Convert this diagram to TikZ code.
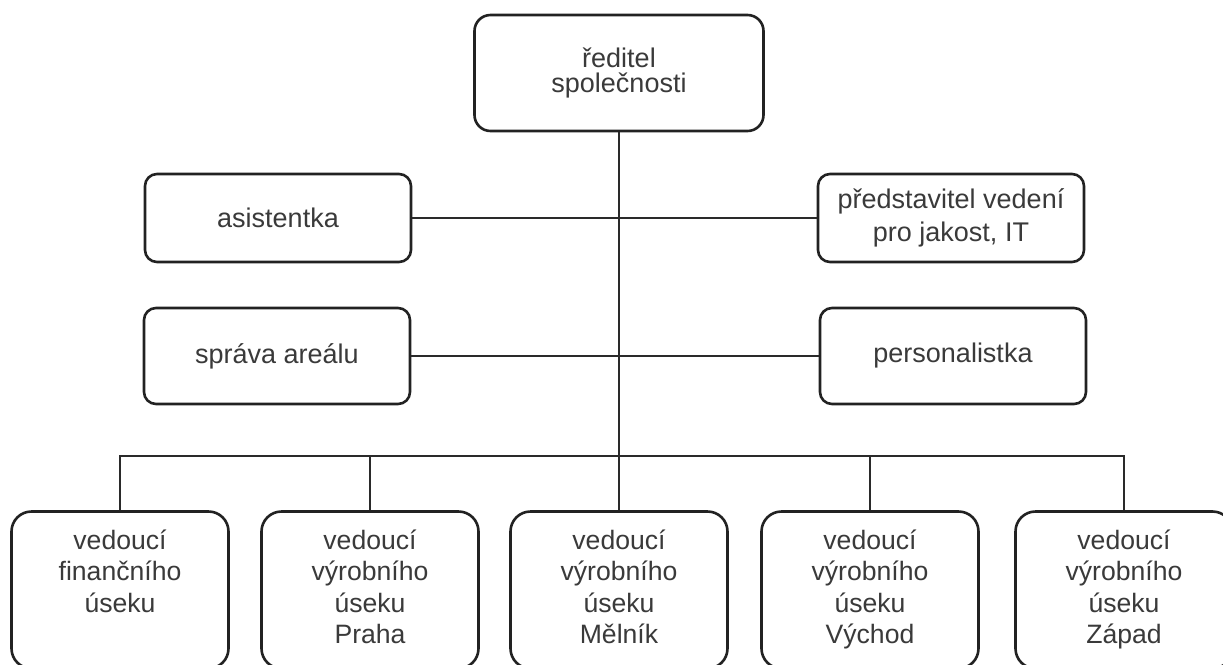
\documentclass[tikz,border=0pt]{standalone}
\usepackage{fontspec}
\setmainfont{Liberation Sans}
\usepackage{xcolor}
\usepackage{tikz}
\definecolor{box_line}{HTML}{222222}
\definecolor{box_text}{HTML}{3a3a3a}
\definecolor{link_line}{HTML}{2a2a2a}
\newcommand{\branchfont}{\fontsize{13.3}{15.7}\selectfont\lineskiplimit=-10pt\relax}

\begin{document}
\begin{tikzpicture}[x=0.5pt, y=-0.5pt,
  every node/.style={font=\fontsize{13.5}{16.2}\selectfont, text=box_text, align=center},
  unit/.style={draw=box_line, line width=1.3pt, rounded corners=6pt, minimum width=133pt, minimum height=44pt, inner sep=0pt},
  branch/.style={draw=box_line, line width=1.3pt, rounded corners=10pt, minimum width=108.5pt, minimum height=78.5pt, inner sep=0pt, text depth=3.5pt, font=\branchfont},
  link/.style={draw=link_line, line width=0.9pt}]

  \fill[white] (0,0) rectangle (1223,665);
  \useasboundingbox (0,0) rectangle (1223,665);

  \node[unit, minimum width=144.5pt, minimum height=58pt, rounded corners=8pt, font=\fontsize{13.5}{12.8}\selectfont] (boss) at (619,73) {ředitel\\společnosti};

  \node[unit] (assistant) at (278,218) {asistentka};
  \node[unit] (quality) at (951,218) {představitel vedení\\pro jakost, IT};
  \node[unit, minimum height=48pt] (estate) at (277,356) {správa areálu};
  \node[unit, minimum height=48pt] (hr) at (953,356) {personalistka};

  \node[branch] (finance) at (120,590) {vedoucí\\finančního\\úseku\\\mbox{}};
  \node[branch] (praha) at (370,590) {vedoucí\\výrobního\\úseku\\Praha};
  \node[branch] (melnik) at (619,590) {vedoucí\\výrobního\\úseku\\Mělník};
  \node[branch] (vychod) at (870,590) {vedoucí\\výrobního\\úseku\\Východ};
  \node[branch] (zapad) at (1124,590) {vedoucí\\výrobního\\úseku\\Západ};

  \coordinate (bus) at (619,456);

  \draw[link] (boss.south) -- (melnik.north);
  \draw[link] (assistant.east) -- (quality.west);
  \draw[link] (estate.east) -- (hr.west);

  \draw[link, line width=0.8pt] (finance.north) |- (bus) -| (zapad.north);
  \draw[link, line width=0.8pt] (praha.north) |- (bus);
  \draw[link, line width=0.8pt] (vychod.north) |- (bus);

\end{tikzpicture}
\end{document}
